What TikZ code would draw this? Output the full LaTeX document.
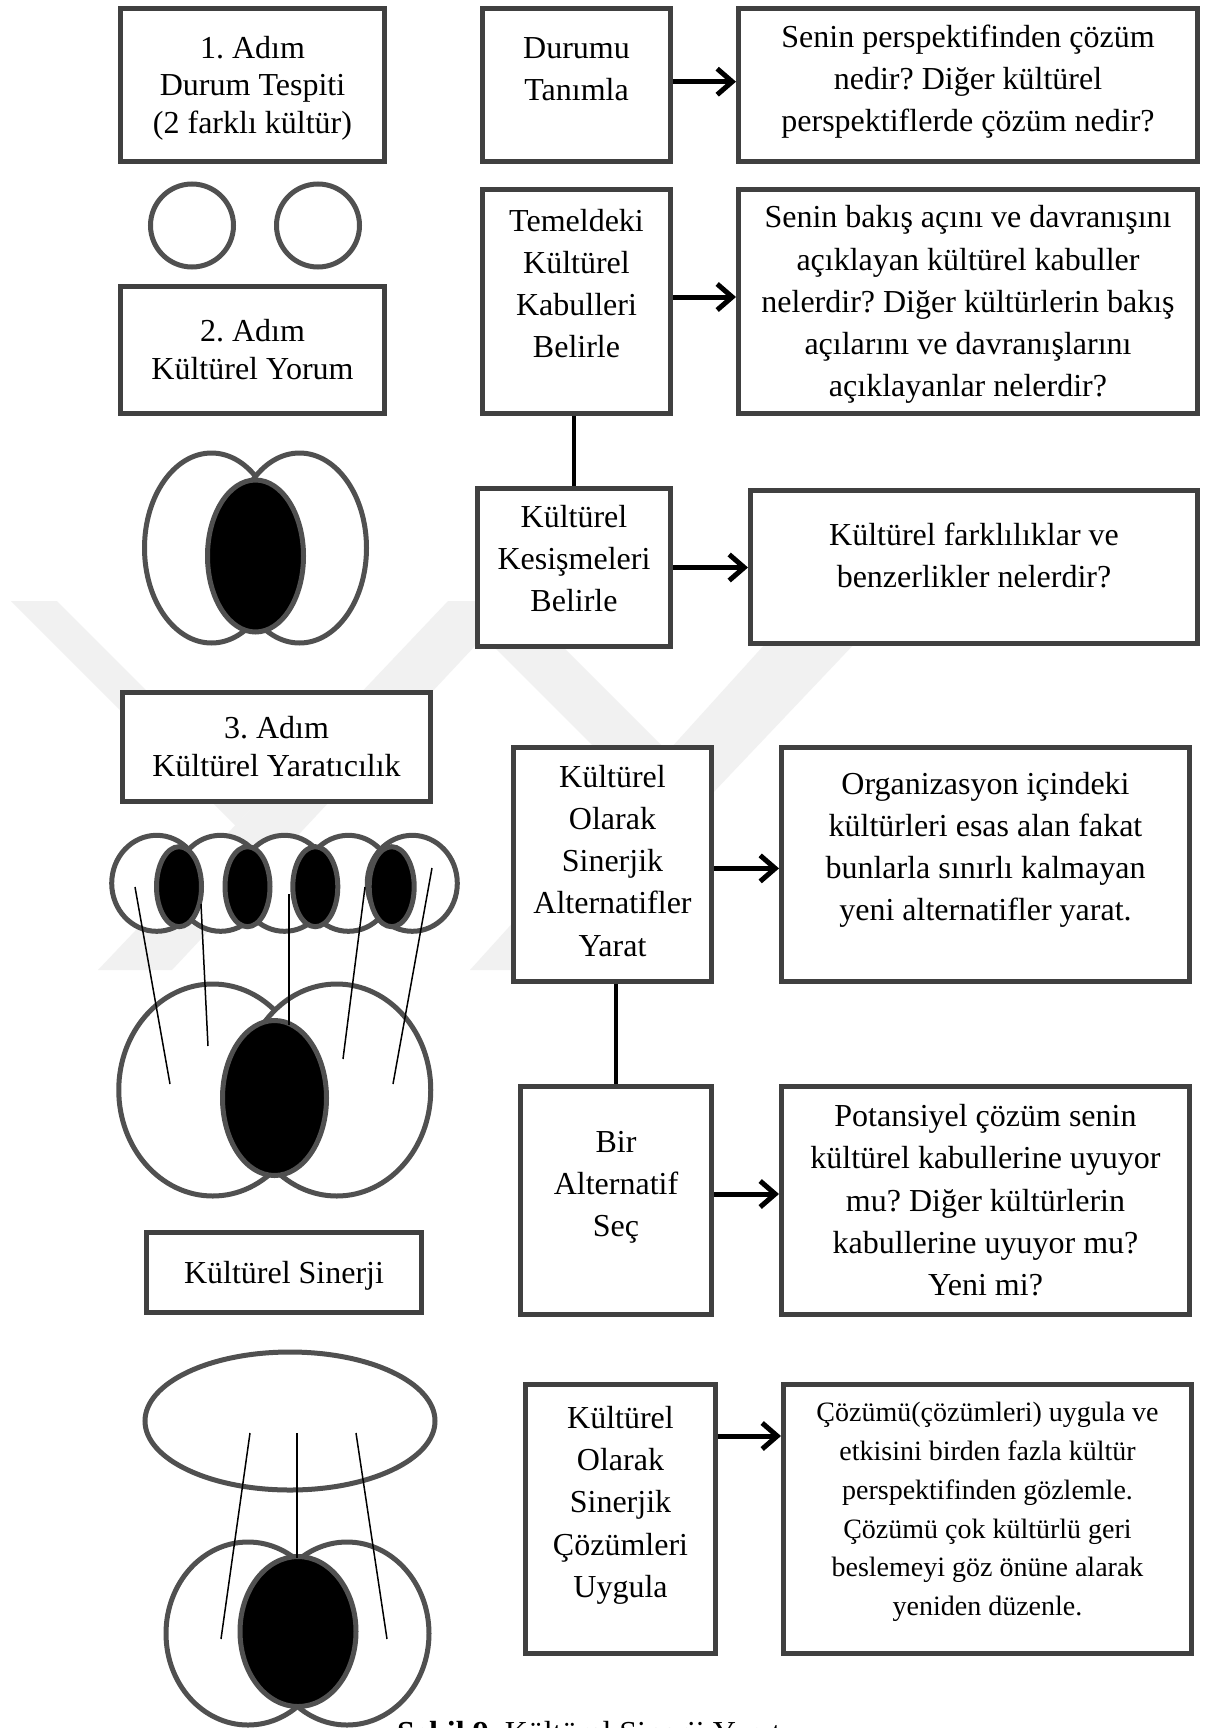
\documentclass[tikz,border=0pt]{standalone}
\usepackage{fontspec}
\setmainfont{Liberation Serif}
\usetikzlibrary{arrows.meta}
\definecolor{boxgray}{HTML}{404040}
\definecolor{ringgray}{HTML}{505050}
\definecolor{wmgray}{HTML}{F1F1F1}
% struts that fix the height of the first text line
\newcommand\fl{\rule{0pt}{32pt}}
\newcommand\fls{\rule{0pt}{28pt}}
\frenchspacing

\begin{document}
\begin{tikzpicture}[x=1pt,y=-1pt,
  box/.style={draw=boxgray, line width=5pt, fill=white, inner sep=0pt},
  lbl/.style={inner sep=0pt, align=center, anchor=north, font=\fontsize{32}{42.2}\selectfont},
  lblL/.style={lbl, font=\fontsize{32}{37.8}\selectfont},
  lblS/.style={lbl, font=\fontsize{28}{38.7}\selectfont},
  ring/.style={draw=ringgray, line width=5pt, fill=white},
  core/.style={draw=ringgray, line width=5pt, fill=black},
  ray/.style={black, line width=1.5pt},
  flow/.style={black, line width=5pt, -{Straight Barb[length=15pt,width=26pt]}},
  link/.style={black, line width=4.5pt},
  wm/.style={fill=wmgray, draw=none}]

\useasboundingbox (0,0) rectangle (1214,1728);
\clip (0,0) rectangle (1214,1728);
\fill[white] (0,0) rectangle (1214,1728);

% faint background emblem
\fill[wm] (98,970) -- (172,970) -- (517,601) -- (448,601) -- cycle;
\fill[wm] (11,601) -- (57,601) -- (257.7,801.7) -- (235.3,825.3) -- cycle;
\fill[wm] (470,970) -- (545,970) -- (895,601) -- (804,601) -- cycle;
\fill[wm] (448,601) -- (517,601) -- (667.7,751.7) -- (634.9,787.9) -- cycle;

% ---- boxes ----
\node[box, minimum width=264pt, minimum height=153pt] (L1) at (252.5,85) {};
\node[box, minimum width=188pt, minimum height=153pt] (M1) at (576.5,85) {};
\node[box, minimum width=459pt, minimum height=153pt] (R1) at (968,85) {};
\node[box, minimum width=264pt, minimum height=127pt] (L2) at (252.5,350) {};
\node[box, minimum width=188pt, minimum height=224pt] (M2) at (576.5,301.5) {};
\node[box, minimum width=459pt, minimum height=224pt] (R2) at (968,301.5) {};
\node[box, minimum width=193pt, minimum height=158pt] (M3) at (574,567.5) {};
\node[box, minimum width=447pt, minimum height=153pt] (R3) at (974,567) {};
\node[box, minimum width=308pt, minimum height=109pt] (L3) at (276.5,747) {};
\node[box, minimum width=198pt, minimum height=234pt] (M4) at (612.5,864.5) {};
\node[box, minimum width=408pt, minimum height=234pt] (R4) at (985.5,864.5) {};
\node[box, minimum width=191pt, minimum height=228pt] (M5) at (616,1200.5) {};
\node[box, minimum width=408pt, minimum height=228pt] (R5) at (985.5,1200.5) {};
\node[box, minimum width=275pt, minimum height=80pt] (L4) at (284,1272.5) {};
\node[box, minimum width=190pt, minimum height=269pt] (M6) at (620.5,1519) {};
\node[box, minimum width=408pt, minimum height=269pt] (R6) at (987.5,1519) {};

% ---- box texts ----
\node[lblL] (L1t) at (252.5,26) {\fl 1. Adım\\Durum Tespiti\\(2 farklı kültür)};
\node[lbl] (M1t) at (576.5,26) {\fl Durumu\\Tanımla};
\node[lbl] (R1t) at (968,15) {\fl Senin perspektifinden çözüm\\nedir? Diğer kültürel\\perspektiflerde çözüm nedir?};
\node[lblL] (L2t) at (252.5,309.5) {\fl 2. Adım\\Kültürel Yorum};
\node[lbl] (M2t) at (576.5,199) {\fl Temeldeki\\Kültürel\\Kabulleri\\Belirle};
\node[lbl] (R2t) at (968,195.7) {\fl Senin bakış açını ve davranışını\\açıklayan kültürel kabuller\\nelerdir? Diğer kültürlerin bakış\\açılarını ve davranışlarını\\açıklayanlar nelerdir?};
\node[lbl] (M3t) at (574,494.8) {\fl Kültürel\\Kesişmeleri\\Belirle};
\node[lbl] (R3t) at (974,513.5) {\fl Kültürel farklılıklar ve\\benzerlikler nelerdir?};
\node[lblL] (L3t) at (276.5,706) {\fl 3. Adım\\Kültürel Yaratıcılık};
\node[lbl] (M4t) at (612.5,755) {\fl Kültürel\\Olarak\\Sinerjik\\Alternatifler\\Yarat};
\node[lbl] (R4t) at (985.5,761.8) {\fl Organizasyon içindeki\\kültürleri esas alan fakat\\bunlarla sınırlı kalmayan\\yeni alternatifler yarat.};
\node[lbl] (M5t) at (616,1120.3) {\fl Bir\\Alternatif\\Seç};
\node[lbl] (R5t) at (985.5,1094.4) {\fl Potansiyel çözüm senin\\kültürel kabullerine uyuyor\\mu? Diğer kültürlerin\\kabullerine uyuyor mu?\\Yeni mi?};
\node[lblL] (L4t) at (284,1251.6) {\fl Kültürel Sinerji};
\node[lbl] (M6t) at (620.5,1396.3) {\fl Kültürel\\Olarak\\Sinerjik\\Çözümleri\\Uygula};
\node[lblS] (R6t) at (987.5,1393.7) {\fls Çözümü(çözümleri) uygula ve\\etkisini birden fazla kültür\\perspektifinden gözlemle.\\Çözümü çok kültürlü geri\\beslemeyi göz önüne alarak\\yeniden düzenle.};

% ---- connectors ----
\draw[flow] ([yshift=3.3pt]M1.east) -- ([yshift=3.3pt]M1.east -| R1.west);
\draw[flow] ([yshift=4.5pt]M2.east) -- ([yshift=4.5pt]M2.east -| R2.west);
\draw[flow] (M3.east) -- (M3.east -| R3.west);
\draw[flow] ([yshift=-3.9pt]M4.east) -- ([yshift=-3.9pt]M4.east -| R4.west);
\draw[flow] ([yshift=6.5pt]M5.east) -- ([yshift=6.5pt]M5.east -| R5.west);
\draw[flow] ([yshift=83pt]M6.east) -- ([yshift=83pt]M6.east -| R6.west);
\draw[link] (M2.south -| M3.north) -- (M3.north);
\draw[link] (M4.south -| M5.north) -- (M5.north);

% ---- step 1: two separate cultures ----
\draw[ring] (192,225.5) circle [radius=41.5pt];
\draw[ring] (318,225.5) circle [radius=41.5pt];

% ---- step 2: overlapping cultures ----
\draw[ring] (211.5,548) ellipse [x radius=67pt, y radius=95pt];
\draw[ring] (299.5,548) ellipse [x radius=67pt, y radius=95pt];
\draw[core] (255.5,556) ellipse [x radius=48pt, y radius=76pt];

% ---- step 3: many cultures feeding a synergy ----
\foreach \cx in {156.7,220.6,284.5,348.4,412.3}
  \draw[ring] (\cx,883.3) ellipse [x radius=45pt, y radius=48pt];
\foreach \cx in {179,247.5,315.3,391.7}
  \draw[core] (\cx,886.7) ellipse [x radius=22.5pt, y radius=40pt];
\draw[ring] (212.75,1090) ellipse [x radius=94pt, y radius=106pt];
\draw[ring] (336.75,1090) ellipse [x radius=94pt, y radius=106pt];
\draw[core] (274.5,1098) ellipse [x radius=52pt, y radius=77.5pt];
\draw[ray] (135,887) -- (170,1084);
\draw[ray] (201,904) -- (208,1046);
\draw[ray] (289,894) -- (289,1025);
\draw[ray] (365,887) -- (343,1059);
\draw[ray] (432,868) -- (393,1084);

% ---- synergy: common frame over the overlap ----
\draw[ring] (290,1421) ellipse [x radius=145pt, y radius=69pt];
\draw[ring] (248,1633.5) ellipse [x radius=82pt, y radius=91.5pt];
\draw[ring] (347,1633.5) ellipse [x radius=82pt, y radius=91.5pt];
\draw[core] (298,1631.5) ellipse [x radius=58pt, y radius=75pt];
\draw[ray] (250,1433) -- (221,1639);
\draw[ray] (297,1433) -- (297,1558);
\draw[ray] (356,1433) -- (387,1639);

% ---- caption ----
\node[anchor=base west, inner sep=0pt, font=\fontsize{32}{38}\selectfont] (cap) at (397,1743) {\textbf{Şekil 9.} Kültürel Sinerji Yarat};
\end{tikzpicture}
\end{document}
